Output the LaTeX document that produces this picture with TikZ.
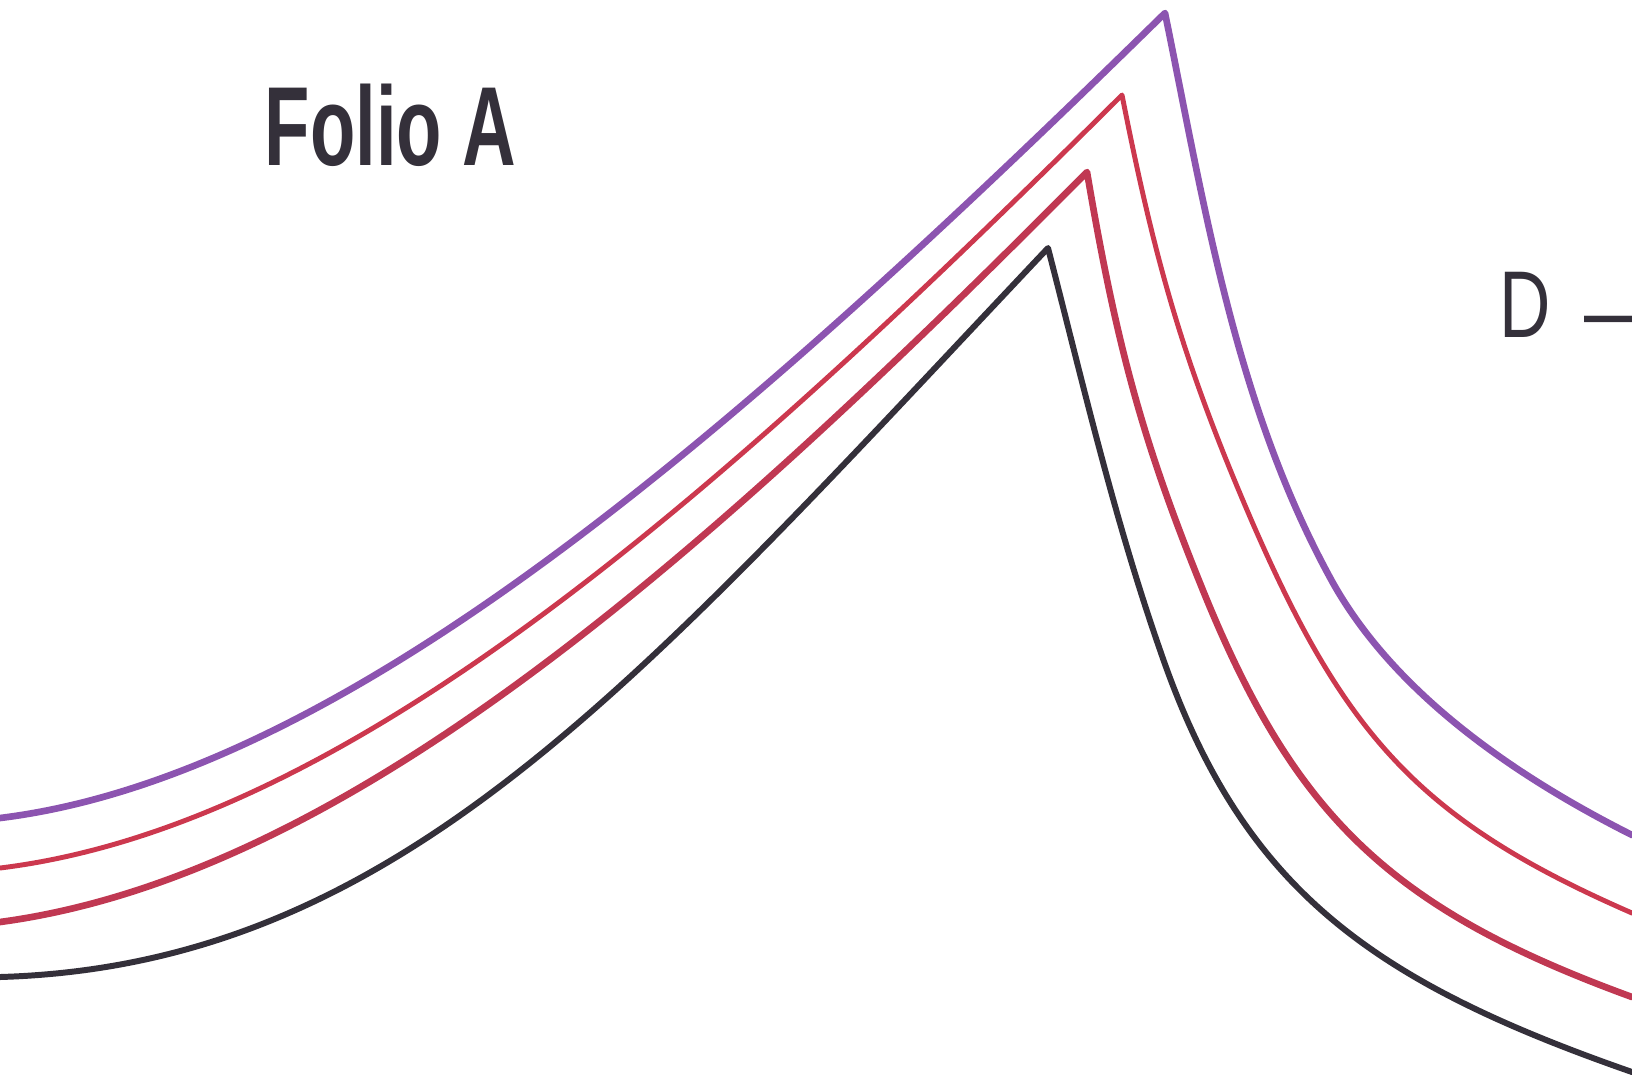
\documentclass[tikz,border=0pt]{standalone}
\usepackage{fontspec}
\setmainfont{Liberation Sans}
\usepackage{tikz}
\definecolor{folpurple}{RGB}{140,84,176}
\definecolor{folred}{RGB}{204,56,78}
\definecolor{folwine}{RGB}{192,56,82}
\definecolor{folblack}{RGB}{52,48,58}
\tikzset{
  pen/.style={line cap=round, line join=round},
  purplepen/.style={pen, draw=folpurple, line width=1.9pt},
  redpen/.style={pen, draw=folred, line width=1.4pt},
  winepen/.style={pen, draw=folwine, line width=1.9pt},
  blackpen/.style={pen, draw=folblack, line width=1.7pt},
  hand/.style={text=folblack, inner sep=0pt, anchor=base west}
}

\begin{document}
\begin{tikzpicture}[x=0.1mm,y=-0.1mm]
\useasboundingbox (0,0) rectangle (1632,1080);
\clip (0,0) rectangle (1632,1080);
% outer line
\draw[purplepen] (0,818) .. controls (350,775) and (750,420) .. (1165,13)
  .. controls (1205,209) and (1236,408) .. (1333,583)
  .. controls (1387,679) and (1489,763) .. (1632,835);
% second line
\draw[redpen] (0,868) .. controls (350,825) and (720,495) .. (1122,95)
  .. controls (1155,262) and (1183,361) .. (1250,517)
  .. controls (1345,737) and (1421,821) .. (1632,913);
% third line
\draw[winepen] (0,922) .. controls (350,875) and (710,552) .. (1087,172)
  .. controls (1117,349) and (1144,444) .. (1200,583)
  .. controls (1293,815) and (1388,908) .. (1632,997);
% inner line
\draw[blackpen] (0,977) .. controls (400,965) and (640,680) .. (1048,248)
  .. controls (1083,384) and (1114,518) .. (1160,650)
  .. controls (1241,887) and (1368,980) .. (1632,1072);
% labels
\node[hand, font=\bfseries\fontsize{32}{36}\selectfont] (folio) at (264,165) {\scalebox{0.66}[1]{Folio A}};
\node[hand, font=\fontsize{27}{30}\selectfont] (dmark) at (1499,337) {\scalebox{0.75}[1]{D}\kern9.5pt\raisebox{-0.6mm}{\scalebox{0.7}[1]{—}}};
\end{tikzpicture}
\end{document}
